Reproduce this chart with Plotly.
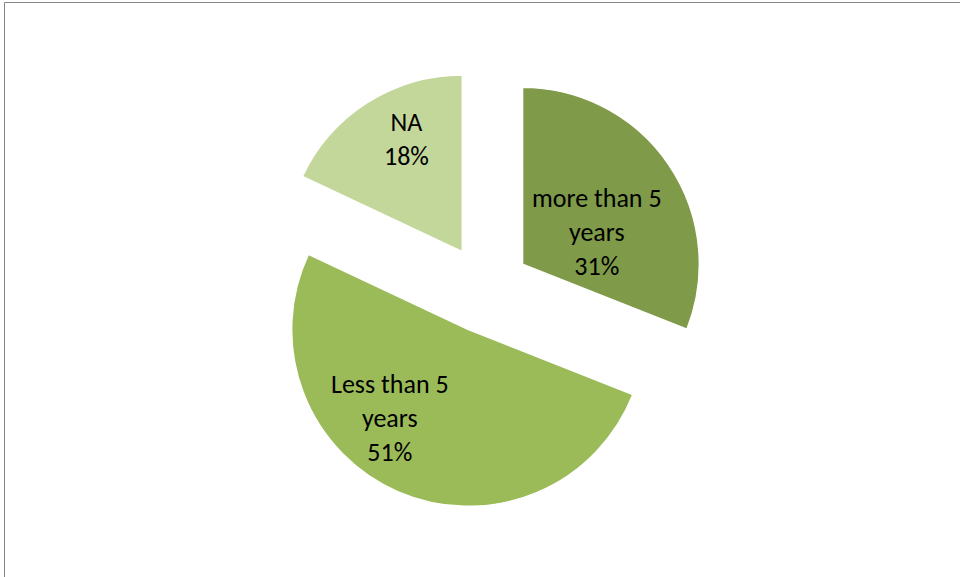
import math
import plotly.graph_objects as go

categories = ["more than 5 years", "Less than 5 years", "NA"]
label_lines = ["more than 5<br>years", "Less than 5<br>years", "NA"]
values = [31, 51, 18]
colors = ["#7F9A48", "#9BBB59", "#C4D79B"]

W, H = 960, 577
cx, cy = 486, 289  # pie centre in px
half = 221
pull = 0.25
R = half / (1 + pull)

# label placement style (angle offset from slice mid-angle, radius fraction)
label_dangle = [11, 18, 6]
label_rfrac = [0.46, 0.67, 0.71]

fig = go.Figure(go.Pie(
    labels=categories,
    values=values,
    textinfo="none",
    marker=dict(colors=colors, line=dict(color="#FFFFFF", width=1.5)),
    sort=False,
    direction="clockwise",
    rotation=0,
    pull=[pull] * len(values),
    showlegend=False,
    hoverinfo="label+percent",
    domain=dict(x=[(cx - 300) / W, (cx + 300) / W],
                y=[1 - (cy + half) / H, 1 - (cy - half) / H]),
))

total = sum(values)
annotations = []
cum = 0
for lab, v, da, rf in zip(label_lines, values, label_dangle, label_rfrac):
    mid = (cum + v / 2) / total * 360
    cum += v
    ax = cx + pull * R * math.sin(math.radians(mid))
    ay = cy - pull * R * math.cos(math.radians(mid))
    phi = math.radians(mid + da)
    lx = ax + rf * R * math.sin(phi)
    ly = ay - rf * R * math.cos(phi)
    annotations.append(dict(
        x=lx / W, y=1 - ly / H, xref="paper", yref="paper",
        text=f"{lab}<br>{round(v / total * 100)}%",
        showarrow=False, align="center", xanchor="center", yanchor="middle",
        font=dict(family="Carlito, Lato, sans-serif", size=26, color="#000000"),
    ))

fig.update_layout(
    width=W, height=H,
    margin=dict(l=0, r=0, t=0, b=0),
    paper_bgcolor="#FFFFFF",
    plot_bgcolor="#FFFFFF",
    annotations=annotations,
    shapes=[dict(type="rect", xref="paper", yref="paper",
                 x0=4.5 / W, x1=1.02, y0=-0.02, y1=1 - 2.5 / H,
                 line=dict(color="#868686", width=1), fillcolor="rgba(0,0,0,0)",
                 layer="below")],
)

fig.write_html("out.html", config={"displayModeBar": False},
               post_script="document.body.style.margin='0';document.body.style.overflow='hidden';")
